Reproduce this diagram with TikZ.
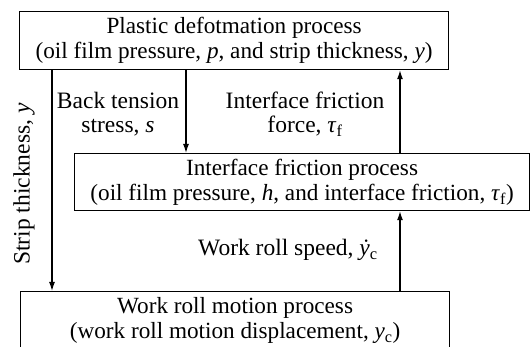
\documentclass[tikz,border=0pt]{standalone}
\usepackage{fontspec}
\setmainfont{Liberation Serif}
\usetikzlibrary{arrows.meta,calc}
\newcommand{\var}[1]{\textit{#1}}
\newcommand{\low}[1]{\textsubscript{#1}}
\begin{document}
\begin{tikzpicture}[x=1pt,y=1pt,
  procbox/.style={draw,line width=1.2pt,inner sep=0pt,align=center,
    font=\fontsize{23.2}{25}\selectfont},
  lbl/.style={align=center,inner sep=0pt,font=\fontsize{23.5}{24}\selectfont},
  flow/.style={line width=1.2pt,-{Latex[length=9pt,width=6pt]}}]
\useasboundingbox (0,0) rectangle (531,347);
% process blocks
\node[procbox,minimum width=429pt,minimum height=58pt,anchor=north west]
  (plastic) at (19,336)
  {Plastic defotmation process\\(oil film pressure, \var{p}, and strip thickness, \var{y})};
\node[procbox,minimum width=455pt,minimum height=57pt,anchor=north west]
  (friction) at (74,194)
  {Interface friction process\\(oil film pressure, \var{h}, and interface friction, \var{τ}\low{f})};
\node[procbox,minimum width=429pt,minimum height=58pt,anchor=north west]
  (roll) at (20,56)
  {Work roll motion process\\(work roll motion displacement, \var{y}\low{c})};
% connector columns
\coordinate (cs) at (52,0);
\coordinate (cb) at (186,0);
\coordinate (cu) at (400,0);
% signal flows
\draw[flow] (plastic.south -| cs) -- (roll.north -| cs);
\draw[flow] (plastic.south -| cb) -- (friction.north -| cb);
\draw[flow] (friction.north -| cu) -- (plastic.south -| cu);
\draw[flow] (roll.north -| cu) -- (friction.south -| cu);
% signal labels
\node[lbl,rotate=90] (lthick) at (24,163) {Strip thickness, \var{y}};
\node[lbl] (ltension) at (118,233) {Back tension\\stress, \var{s}};
\node[lbl] (lforce) at (305,233) {Interface friction\\force, \var{τ}\low{f}};
\node[lbl] (lspeed) at (288,97) {Work roll speed, \var{ẏ}\low{c}};
\end{tikzpicture}
\end{document}
